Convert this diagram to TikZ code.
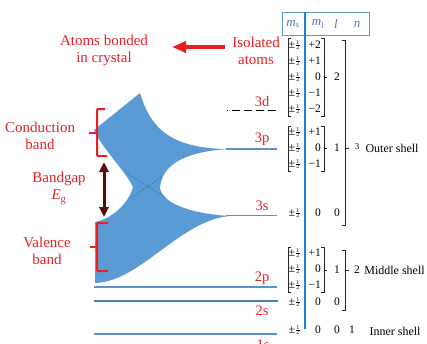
\documentclass[tikz,border=0pt]{standalone}
\usepackage{fontspec}
\setmainfont{Liberation Serif}
\usetikzlibrary{arrows.meta}
\definecolor{lblred}{RGB}{235,30,35}
\definecolor{bandblue}{RGB}{91,155,213}
\definecolor{lineblue}{RGB}{95,145,205}
\definecolor{darkline}{RGB}{75,125,185}
\definecolor{axisblue}{RGB}{25,130,215}
\definecolor{hdrblue}{RGB}{85,120,185}
\definecolor{gapred}{RGB}{90,10,15}
\definecolor{xblue}{RGB}{65,113,165}
\newcommand{\halffrac}{\raisebox{-1.6pt}{\vbox{\fontsize{6}{5}\selectfont\offinterlineskip\halign{\hfil##\hfil\cr 1\cr\noalign{\kern0.6pt}\rule{3.4pt}{0.4pt}\cr\noalign{\kern0.6pt}2\cr}}}}
\newcommand{\pmh}{{\fontsize{12}{12}\selectfont ±}\kern1pt\halffrac}
\begin{document}
\begin{tikzpicture}[x=1pt,y=-1pt,
  redlbl/.style={text=lblred, font=\fontsize{15}{17}\selectfont, align=center, inner sep=0pt},
  lvllbl/.style={text=lblred, font=\fontsize{14.5}{16}\selectfont, inner sep=0pt},
  tab/.style={font=\fontsize{11.5}{12}\selectfont, inner sep=0pt},
  shell/.style={font=\fontsize{12}{13}\selectfont, inner sep=0pt},
  hdr/.style={text=hdrblue, font=\fontsize{13}{13}\selectfont\itshape, inner sep=0pt},
  lvl/.style={draw=lineblue, line width=1.3pt},
  brk/.style={draw=black!85, line width=0.8pt},
  bracered/.style={draw=lblred, line width=2pt, rounded corners=1pt},
]
\useasboundingbox (0,0) rectangle (427,343);
\clip (0,0) rectangle (427,343);

% ---------- band shape ----------
\fill[bandblue] (140,93)
  .. controls (150,126) and (168,149) .. (230,149)
  .. controls (190,151) and (162,162) .. (160,188)
  .. controls (163,205) and (195,214) .. (230,216)
  .. controls (180,220) and (140,282) .. (95,283)
  -- (95,222)
  .. controls (115,218) and (130,200) .. (133,187)
  .. controls (126,172) and (102,148) .. (94,130)
  -- cycle;
\coordinate (xa1) at (128,174);
\coordinate (xa2) at (166,198);
\coordinate (xb1) at (131,198);
\coordinate (xb2) at (163,176);
\draw[xblue, line width=0.6pt, dash pattern=on 2pt off 1.5pt] (xa1) -- (xa2);
\draw[xblue, line width=0.6pt, dash pattern=on 2pt off 1.5pt] (xb1) -- (xb2);

% ---------- energy levels ----------
\coordinate (d3a) at (227,110);  \coordinate (d3b) at (277,110);
\coordinate (p3a) at (226,149);  \coordinate (p3b) at (277,149);
\coordinate (s3a) at (226,215.5);\coordinate (s3b) at (277,215.5);
\coordinate (p2a) at (94,287);   \coordinate (p2b) at (277,287);
\coordinate (s2a) at (94,301);   \coordinate (s2b) at (278,301);
\coordinate (s1a) at (94,334);   \coordinate (s1b) at (277,334);
\draw[black, line width=0.8pt, dash pattern={on 1pt off 4pt on 8pt off 4pt on 8pt off 4pt on 8pt off 4pt on 8pt off 4pt}] (d3a) -- (d3b);
\draw[lvl] (p3a) -- (p3b);
\draw[lvl] (s3a) -- (s3b);
\draw[lvl] (p2a) -- (p2b);
\draw[draw=darkline, line width=2pt] (s2a) -- (s2b);
\draw[lvl] (s1a) -- (s1b);

\node[lvllbl] (L3d) at (262,102) {3d};
\node[lvllbl] (L3p) at (262,139) {3p};
\node[lvllbl] (L3s) at (262,206) {3s};
\node[lvllbl] (L2p) at (262,278) {2p};
\node[lvllbl] (L2s) at (262,311) {2s};
\node[lvllbl] (L1s) at (263,345) {1s};

% ---------- red labels ----------
\node[redlbl] (bonded) at (104,50.5) {Atoms bonded\\in crystal};
\node[redlbl] (isolated) at (256,50.5) {Isolated\\atoms};
\coordinate (arrS) at (225,47);
\coordinate (arrE) at (172,47);
\draw[lblred, line width=3.5pt, -{Triangle[length=14pt, width=11pt]}] (arrS) -- (arrE);

\node[redlbl] (cond) at (40,135.5) {Conduction\\band};
\node[redlbl] (gap) at (59,188.5) {Bandgap\\\textit{E}\textsubscript{g}};
\node[redlbl] (val) at (47,250.5) {Valence\\band};

\draw[bracered] (105,109) -- (97,109) -- (97,156) -- (107,156);
\draw[bracered, rounded corners=0pt] (97,133) -- (89,133);
\draw[bracered] (108,223) -- (97,223) -- (97,271) -- (108,271);
\draw[bracered, rounded corners=0pt] (97,247) -- (90,247);

\coordinate (gapT) at (104,162);
\coordinate (gapB) at (104,217);
\draw[gapred, line width=3pt, {Triangle[length=10pt, width=9pt]}-{Triangle[length=10pt, width=9pt]}] (gapT) -- (gapB);

% ---------- table ----------
\draw[draw=bandblue, line width=0.9pt] (282,12) rectangle (369,35);
\draw[draw=axisblue, line width=1.2pt] (305,12) -- (305,329);
\node[hdr] (hms) at (293,24) {m\textsubscript{\upshape s}};
\node[hdr] (hml) at (318,24) {m\textsubscript{\upshape l}};
\node[hdr] (hl) at (336,24) {l};
\node[hdr] (hn) at (357,24) {n};

% 3d group
\foreach \y/\v [count=\i] in {45/+2,61/+1,77/0,93/−1,109/−2}{
  \node[tab] (ms3d\i) at (294,\y) {\pmh};
  \node[tab, anchor=east] (ml3d\i) at (321,\y) {\v};
}
\draw[brk] (291,38) -- (288,38) -- (288,116) -- (291,116);
\draw[brk] (321,38) -- (324,38) -- (324,116) -- (321,116);
\draw[brk] (324,77) -- (327,77);
\node[tab] (l3d) at (337,77) {2};

% 3p group
\foreach \y/\v [count=\i] in {132/+1,148/0,164/−1}{
  \node[tab] (ms3p\i) at (294,\y) {\pmh};
  \node[tab, anchor=east] (ml3p\i) at (321,\y) {\v};
}
\draw[brk] (291,126) -- (288,126) -- (288,171) -- (291,171);
\draw[brk] (321,126) -- (324,126) -- (324,171) -- (321,171);
\draw[brk] (324,148) -- (327,148);
\node[tab] (l3p) at (337,148) {1};

% 3s
\node[tab] (ms3s) at (294,213) {\pmh};
\node[tab, anchor=east] (ml3s) at (321,213) {0};
\node[tab] (l3s) at (337,213) {0};

% outer shell bracket
\draw[brk] (342,40) -- (345,40) -- (345,225) -- (342,225);
\draw[brk] (345,148) -- (349,148);
\node[font=\fontsize{9}{10}\selectfont, inner sep=0pt] (n3) at (357,147) {3};
\node[shell] (outer) at (392,148) {Outer shell};

% 2p group
\foreach \y/\v [count=\i] in {253/+1,269/0,285/−1}{
  \node[tab] (ms2p\i) at (294,\y) {\pmh};
  \node[tab, anchor=east] (ml2p\i) at (321,\y) {\v};
}
\draw[brk] (291,247) -- (288,247) -- (288,292) -- (291,292);
\draw[brk] (321,247) -- (324,247) -- (324,292) -- (321,292);
\draw[brk] (324,270) -- (327,270);
\node[tab] (l2p) at (337,270) {1};

% 2s
\node[tab] (ms2s) at (294,302) {\pmh};
\node[tab, anchor=east] (ml2s) at (321,302) {0};
\node[tab] (l2s) at (337,302) {0};

% middle shell bracket
\draw[brk] (342,250) -- (345,250) -- (345,310) -- (342,310);
\draw[brk] (345,270) -- (349,270);
\node[tab] (n2) at (357,270) {2};
\node[shell] (middle) at (394.5,270) {Middle shell};

% 1s / inner
\node[tab] (ms1s) at (294,330) {\pmh};
\node[tab, anchor=east] (ml1s) at (321,330) {0};
\node[tab] (l1s) at (337,330) {0};
\node[tab] (n1) at (352,330) {1};
\node[shell] (inner) at (395,331) {Inner shell};
\end{tikzpicture}
\end{document}
